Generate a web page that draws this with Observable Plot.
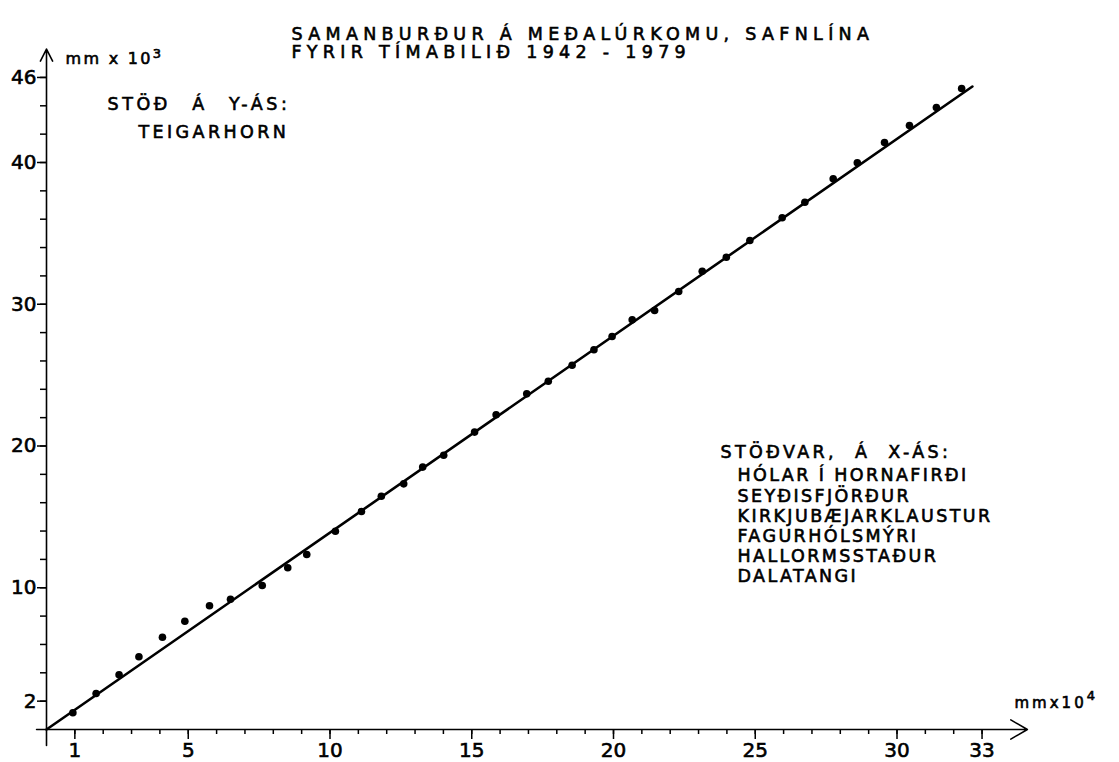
<!DOCTYPE html>
<html><head><meta charset="utf-8">
<script src="https://cdn.jsdelivr.net/npm/d3@7"></script>
<script src="https://cdn.jsdelivr.net/npm/@observablehq/plot@0.6"></script>
<style>
html,body{margin:0;padding:0;background:#fff;}
#chart{width:1119px;height:762px;overflow:hidden;}
</style>
</head><body>
<div id="chart"></div>
<script>
// ---- data ----
// cumulative precipitation: x = mean of the x-axis stations (mm x 10^4), y = Teigarhorn (mm x 10^3)
const cumX = [0.93, 1.75, 2.56, 3.26, 4.09, 4.88, 5.75, 6.49, 7.61, 8.51, 9.18, 10.19, 11.11, 11.81, 12.60, 13.27, 14.01, 15.10, 15.86, 16.94, 17.70, 18.54, 19.31, 19.95, 20.66, 21.45, 22.30, 23.13, 23.98, 24.81, 25.95, 26.75, 27.75, 28.60, 29.56, 30.44, 31.39, 32.28];
const cumY = [1.18, 2.54, 3.86, 5.13, 6.51, 7.64, 8.73, 9.19, 10.16, 11.41, 12.35, 13.99, 15.38, 16.46, 17.33, 18.51, 19.35, 20.98, 22.20, 23.68, 24.57, 25.70, 26.79, 27.73, 28.90, 29.56, 30.90, 32.33, 33.32, 34.50, 36.10, 37.20, 38.85, 39.98, 41.41, 42.61, 43.88, 45.22];
const fitX = [0, 32.66];
const fitY = [0, 45.36];
const xAxisExtent = [-0.35, 34.6];
const yAxisExtent = [-1.13, 48.0];
const xMinorTicks = d3.range(1, 34);
const xLabelTicks = [1, 5, 10, 15, 20, 25, 30, 33];
const yMinorTicks = d3.range(2, 47, 2);
const yLabelTicks = [2, 10, 20, 30, 40, 46];
const titleLines = ["SAMANBURÐUR Á MEÐALÚRKOMU, SAFNLÍNA", "FYRIR TÍMABILIÐ 1942 - 1979"];
const yStationHead = "STÖÐ Á Y-ÁS:";
const yStation = "TEIGARHORN";
const xStationHead = "STÖÐVAR, Á X-ÁS:";
const xStations = ["HÓLAR Í HORNAFIRÐI", "SEYÐISFJÖRÐUR", "KIRKJUBÆJARKLAUSTUR", "FAGURHÓLSMÝRI", "HALLORMSSTAÐUR", "DALATANGI"];
const yUnit = ["mm x 10", "3"];
const xUnit = ["mmx10", "4"];

// ---- layout ----
const W = 1119, H = 762;
const ML = 46, MT = 48.6, MB = 33, MR = 80.75;
const FONT = "'DejaVu Sans', sans-serif";

const points = cumX.map((x, i) => ({x, y: cumY[i]}));
const fit = fitX.map((x, i) => ({x, y: fitY[i]}));
const xAxisLine = [{x1: xAxisExtent[0], x2: xAxisExtent[1], y: 0}];
const yAxisLine = [{x: 0, y1: yAxisExtent[0], y2: yAxisExtent[1]}];

function note(text, dx, dy, opts = {}) {
  return Plot.text([text], {text: d => d, frameAnchor: "top-left", textAnchor: "start", lineAnchor: "top",
    dx: dx - ML, dy: dy - MT, fontSize: 17.5, fill: "#000", ...opts});
}

const plot = Plot.plot({
  width: W, height: H,
  marginLeft: ML, marginRight: MR, marginTop: MT, marginBottom: MB,
  x: {domain: [0, 35]},
  y: {domain: [0, 48]},
  style: {fontFamily: FONT, fontSize: "18px", background: "#fff", color: "#000"},
  marks: [
    Plot.axisX({ticks: xMinorTicks, tickSize: 5, strokeWidth: 1.5, fill: "none", label: null}),
    Plot.axisX({ticks: xLabelTicks, tickSize: 10, tickPadding: 3, strokeWidth: 1.5, fontSize: 20, label: null}),
    Plot.axisY({ticks: yMinorTicks, tickSize: 6, strokeWidth: 1.5, fill: "none", label: null}),
    Plot.axisY({ticks: yLabelTicks, tickSize: 9, tickPadding: 1, strokeWidth: 1.5, fontSize: 20, label: null}),
    Plot.arrow(xAxisLine, {x1: "x1", x2: "x2", y1: "y", y2: "y", stroke: "#000", strokeWidth: 1.6, headLength: 18, headAngle: 60}),
    Plot.arrow(yAxisLine, {x1: "x", x2: "x", y1: "y1", y2: "y2", stroke: "#000", strokeWidth: 1.6, headLength: 12.6, headAngle: 54}),
    Plot.line(fit, {x: "x", y: "y", stroke: "#000", strokeWidth: 2.6}),
    Plot.dot(points, {x: "x", y: "y", r: 3.8, fill: "#000", stroke: null}),
    note(titleLines.join("\n"), 291, 27, {lineHeight: 1.03}),
    note(yStationHead, 107, 97),
    note(yStation, 138, 125),
    note(xStationHead, 720, 445.5),
    note(xStations.join("\n"), 737, 466.5, {lineHeight: 1.154}),
    note(yUnit[0], 65, 52, {fontSize: 16}),
    note(xUnit[0], 1014, 697, {fontSize: 15})
  ]
});

const svg = d3.select(plot);
svg.selectAll("text").each(function() {
  const t = this.textContent;
  const sel = d3.select(this);
  sel.attr("stroke", "#000").attr("stroke-width", 0.6);
  if (/^\d+$/.test(t)) { sel.attr("font-size", 20).style("font-size", "20px").attr("letter-spacing", 0); return; }
  if (t === yUnit[0]) { sel.attr("letter-spacing", 2.3); sel.append("tspan").attr("dy", -6).attr("font-size", 13).text(yUnit[1]); return; }
  if (t === xUnit[0]) { sel.attr("letter-spacing", 3); sel.append("tspan").attr("dy", -8).attr("font-size", 13).text(xUnit[1]); return; }
  if (t.startsWith(titleLines[0].slice(0, 6))) { sel.attr("letter-spacing", 5.3); return; }
  if (t === yStationHead) { sel.attr("letter-spacing", 3.6).attr("word-spacing", 12); return; }
  if (t === xStationHead) { sel.attr("letter-spacing", 3.4).attr("word-spacing", 9); return; }
  if (t === yStation) { sel.attr("letter-spacing", 3.4); return; }
  sel.attr("letter-spacing", 2.4);
});
document.getElementById("chart").appendChild(plot);
</script>
</body></html>
